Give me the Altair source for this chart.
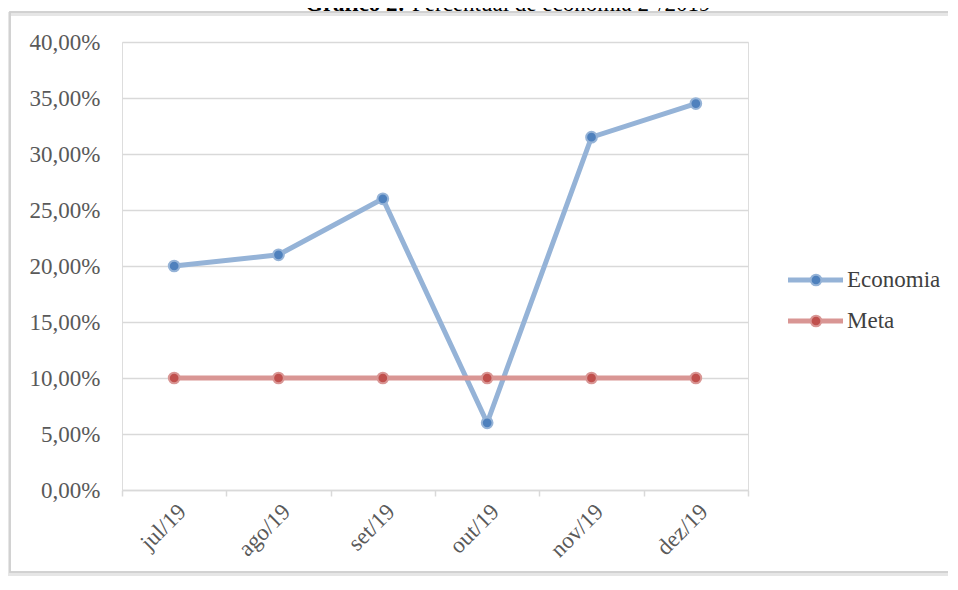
import altair as alt
import pandas as pd

months = ["jul/19", "ago/19", "set/19", "out/19", "nov/19", "dez/19"]
economia = [0.20, 0.21, 0.26, 0.06, 0.315, 0.345]
meta = [0.10, 0.10, 0.10, 0.10, 0.10, 0.10]
series = ["Economia", "Meta"]
line_colors = ["#95b3d7", "#d99694"]
marker_colors = ["#4f81bd", "#c0504d"]
y_ticks = [0.0, 0.05, 0.10, 0.15, 0.20, 0.25, 0.30, 0.35, 0.40]
title_bold = "Gráfico 2:"
title_rest = "Percentual de economia 2°/2019"

FONT = "Liberation Serif"
GRID = "#d9d9d9"
TXT = "#595959"

df = pd.DataFrame({
    "mes": months * 2,
    "valor": economia + meta,
    "serie": [series[0]] * len(months) + [series[1]] * len(months),
})
leg = pd.DataFrame({"serie": series})

x_enc = alt.X(
    "mes:N", sort=months,
    scale=alt.Scale(type="band", paddingInner=0, paddingOuter=0),
    axis=alt.Axis(title=None, labelAngle=-45, tickBand="extent", grid=False,
                  domainColor=GRID, domainWidth=1.5, tickColor=GRID, tickWidth=1.5,
                  tickSize=6, labelFont=FONT, labelFontSize=23, labelColor=TXT,
                  labelPadding=4),
)
y_enc = alt.Y(
    "valor:Q", scale=alt.Scale(domain=[0, 0.4], nice=False, zero=True),
    axis=alt.Axis(title=None, values=y_ticks, domain=False, ticks=False,
                  gridColor=GRID, gridWidth=1.3, labelPadding=22,
                  labelFont=FONT, labelFontSize=23, labelColor=TXT,
                  labelExpr="replace(format(datum.value * 100, '.2f'), '.', ',') + '%'"),
)
line_scale = alt.Scale(domain=series, range=line_colors)
marker_scale = alt.Scale(domain=series, range=marker_colors)

base = alt.Chart(df)

eco_line = base.transform_filter(alt.datum.serie == series[0]).mark_line(strokeWidth=5).encode(
    x=x_enc, y=y_enc, color=alt.Color("serie:N", scale=line_scale, legend=None))
meta_line = base.transform_filter(alt.datum.serie == series[1]).mark_line(strokeWidth=5).encode(
    x=x_enc, y=y_enc, color=alt.Color("serie:N", scale=line_scale, legend=None))
points = base.mark_circle(size=115, strokeWidth=2, opacity=1).encode(
    x=x_enc, y=y_enc,
    fill=alt.Fill("serie:N", scale=marker_scale, legend=None),
    stroke=alt.Stroke("serie:N", scale=line_scale, legend=None),
)

leg_y = alt.Y("serie:N", scale=alt.Scale(type="point", domain=series, range=[238, 279], padding=0), axis=None)
leg_line = alt.Chart(leg).mark_rule(strokeWidth=5).encode(
    x=alt.value(666), x2=alt.value(721), y=leg_y,
    color=alt.Color("serie:N", scale=line_scale, legend=None))
leg_pt = alt.Chart(leg).mark_circle(size=115, strokeWidth=2, opacity=1).encode(
    x=alt.value(694), y=leg_y,
    fill=alt.Fill("serie:N", scale=marker_scale, legend=None),
    stroke=alt.Stroke("serie:N", scale=line_scale, legend=None))
leg_txt = alt.Chart(leg).mark_text(align="left", baseline="middle", font=FONT,
                                   fontSize=23, color="#404040").encode(
    x=alt.value(725), y=leg_y, text="serie:N")

t1 = alt.Chart(pd.DataFrame({"t": [title_bold]})).mark_text(
    align="left", baseline="alphabetic", font=FONT, fontSize=23, fontWeight="bold", color="#000000"
).encode(x=alt.value(183), y=alt.value(-31), text="t:N")
t2 = alt.Chart(pd.DataFrame({"t": [title_rest]})).mark_text(
    align="left", baseline="alphabetic", font=FONT, fontSize=23, color="#000000"
).encode(x=alt.value(290), y=alt.value(-31), text="t:N")

frame_shadow = alt.Chart(leg).mark_rect(fill=None, stroke="#e6e6e6", strokeWidth=4).encode(
    x=alt.value(-114), x2=alt.value(850), y=alt.value(-28), y2=alt.value(532))
frame = alt.Chart(leg).mark_rect(fill=None, stroke="#cfcfcf", strokeWidth=1.5).encode(
    x=alt.value(-112), x2=alt.value(850), y=alt.value(-30), y2=alt.value(530))

main = alt.layer(eco_line, meta_line, points)
legend = alt.layer(leg_line, leg_pt, leg_txt)

chart = alt.layer(
    frame_shadow, frame, main, legend, t1, t2
).resolve_scale(y="independent").properties(
    width=626, height=448,
    autosize=alt.AutoSizeParams(type="none"),
    padding={"left": 114, "top": 34, "right": 200, "bottom": 86},
).configure_view(stroke=None).configure(background="white")

chart.save("out.html", embed_options={"renderer": "svg", "actions": False})
